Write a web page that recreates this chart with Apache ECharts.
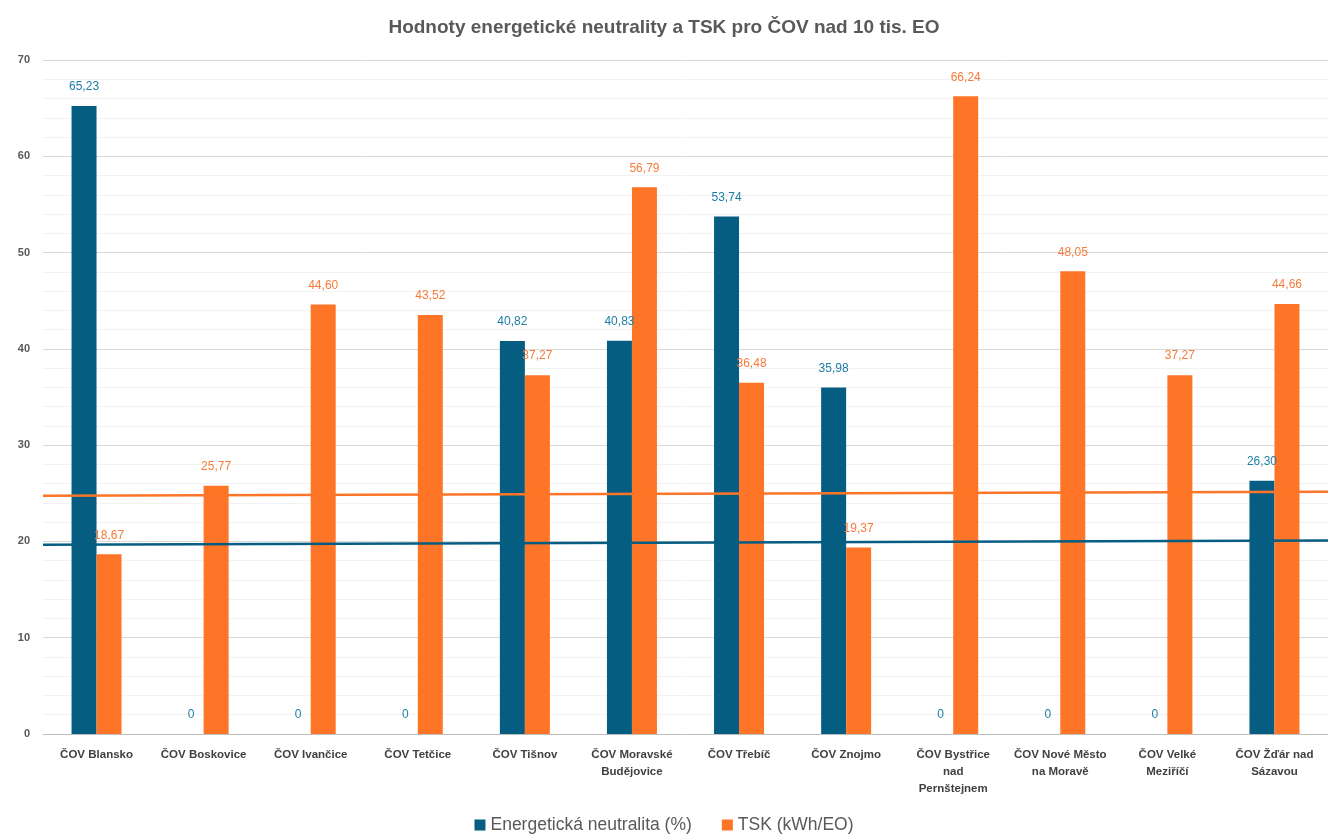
<!DOCTYPE html>
<html>
<head>
<meta charset="utf-8">
<script src="https://cdn.jsdelivr.net/npm/echarts@6/dist/echarts.min.js"></script>
<style>
  html, body { margin: 0; padding: 0; background: #ffffff; }
  #chart { width: 1328px; height: 839px; }
</style>
</head>
<body>
<div id="chart"></div>
<script>
// data
var categories = [
  "ČOV Blansko", "ČOV Boskovice", "ČOV Ivančice", "ČOV Tetčice", "ČOV Tišnov",
  "ČOV Moravské\nBudějovice", "ČOV Třebíč", "ČOV Znojmo", "ČOV Bystřice\nnad\nPernštejnem",
  "ČOV Nové Město\nna Moravě", "ČOV Velké\nMeziříčí", "ČOV Žďár nad\nSázavou"
];
var neutrality = [65.23, 0, 0, 0, 40.82, 40.83, 53.74, 35.98, 0, 0, 0, 26.30];
var tsk = [18.67, 25.77, 44.60, 43.52, 37.27, 56.79, 36.48, 19.37, 66.24, 48.05, 37.27, 44.66];
// the two nearly flat reference lines, start and end values
var tskLine = [[0, 24.75], [1, 25.15]];
var neutralityLine = [[0, 19.65], [1, 20.1]];

var BLUE = "#065d82";
var ORANGE = "#ff7527";
var FONT = "Liberation Sans";

function fmt(p) {
  var v = p.value;
  if (Array.isArray(v)) v = v[1];
  return v === 0 ? "0" : v.toFixed(2).replace(".", ",");
}

var chart = echarts.init(document.getElementById("chart"));
chart.setOption({
  backgroundColor: "#ffffff",
  animation: false,
  title: {
    text: "Hodnoty energetické neutrality a TSK pro ČOV nad 10 tis. EO",
    left: "center",
    top: 13,
    textStyle: { fontFamily: FONT, fontSize: 19, fontWeight: "bold", color: "#595959" }
  },
  legend: {
    data: ["Energetická neutralita (%)", "TSK (kWh/EO)"],
    bottom: 0,
    left: "center",
    itemWidth: 11,
    itemHeight: 11,
    itemGap: 30,
    icon: "rect",
    textStyle: { fontFamily: FONT, fontSize: 17.5, color: "#595959" }
  },
  grid: { left: 43, right: 0, top: 60, bottom: 105, containLabel: false },
  xAxis: [
    {
      type: "category",
      data: categories,
      axisTick: { show: false },
      axisLine: { lineStyle: { color: "#bfbfbf" } },
      axisLabel: {
        interval: 0,
        margin: 12,
        lineHeight: 17,
        fontFamily: FONT,
        fontSize: 11.5,
        fontWeight: "bold",
        color: "#404040"
      }
    },
    { type: "value", min: 0, max: 1, show: false }
  ],
  yAxis: {
    type: "value",
    min: 0,
    max: 70,
    interval: 10,
    axisLine: { show: false },
    axisTick: { show: false },
    axisLabel: { margin: 13, fontFamily: FONT, fontSize: 11, fontWeight: "bold", color: "#595959" },
    splitLine: { lineStyle: { color: "#d9d9d9" } },
    minorTick: { show: false, splitNumber: 5 },
    minorSplitLine: { show: true, lineStyle: { color: "#f2f2f2" } }
  },
  series: [
    {
      name: "Energetická neutralita (%)",
      type: "bar",
      data: neutrality,
      barWidth: 25,
      barGap: "0%",
      itemStyle: { color: BLUE },
      label: { show: true, position: "top", distance: 13, formatter: fmt, fontFamily: FONT, fontSize: 12, color: "#1c7ea6" }
    },
    {
      name: "TSK (kWh/EO)",
      type: "bar",
      data: tsk,
      barWidth: 25,
      barGap: "0%",
      itemStyle: { color: ORANGE },
      label: { show: true, position: "top", distance: 13, formatter: fmt, fontFamily: FONT, fontSize: 12, color: "#f77b3a" }
    },
    {
      name: "tskLine",
      type: "line",
      xAxisIndex: 1,
      data: tskLine,
      showSymbol: false,
      lineStyle: { color: ORANGE, width: 2.5 },
      z: 5
    },
    {
      name: "neutralityLine",
      type: "line",
      xAxisIndex: 1,
      data: neutralityLine,
      showSymbol: false,
      lineStyle: { color: BLUE, width: 2.5 },
      z: 5
    }
  ]
});
</script>
</body>
</html>
